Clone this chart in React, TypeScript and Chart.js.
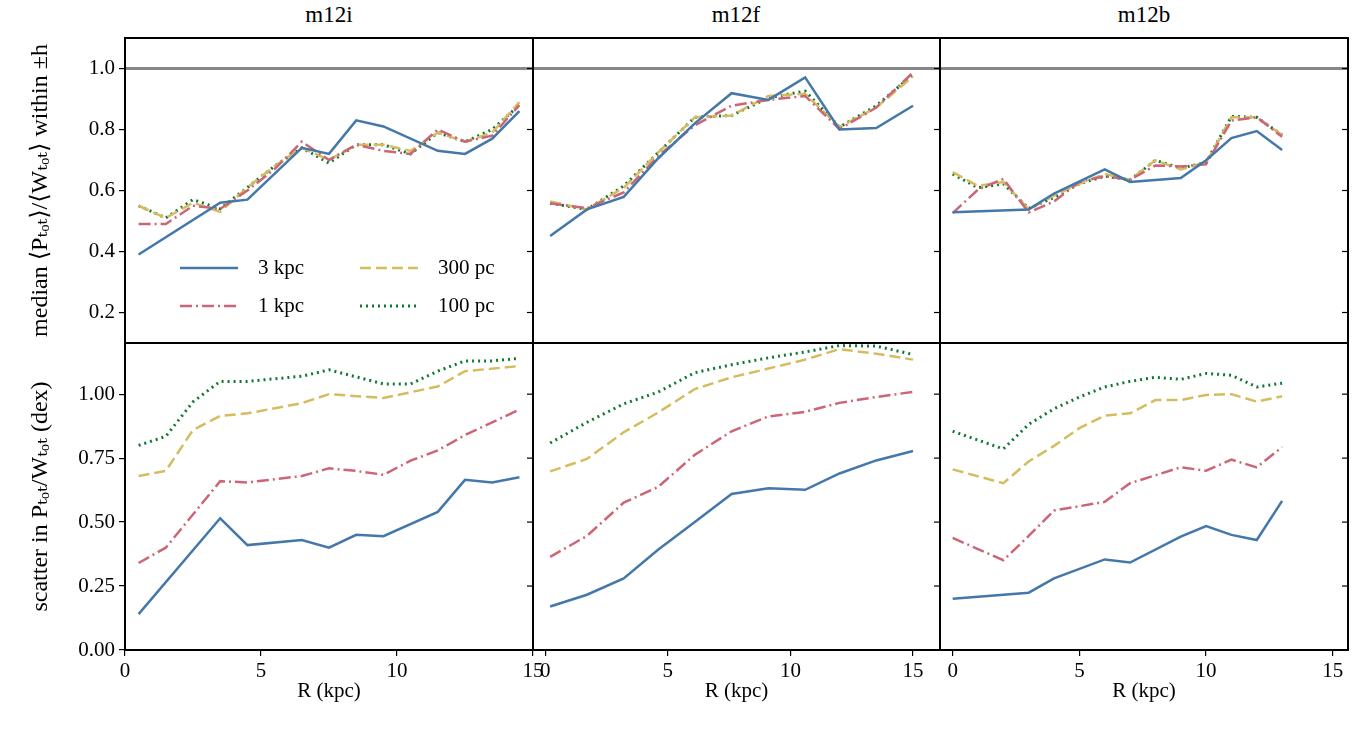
import { useEffect, useRef } from "react"
import Chart from "chart.js/auto"

const SERIF = "'Liberation Serif', 'DejaVu Serif', serif"

const seriesNames = ["3 kpc", "1 kpc", "300 pc", "100 pc"]
const seriesColors = ["#4477AA", "#CC6677", "#D4BC5F", "#117733"]
const seriesDash = [[], [12, 4, 2, 4], [11, 5], [2, 4]]

// m12i
const rM12i = [0.5, 1.5, 2.5, 3.5, 4.5, 5.5, 6.5, 7.5, 8.5, 9.5, 10.5, 11.5, 12.5, 13.5, 14.5]
const m12iMedian = [
  [0.39, null, null, 0.56, 0.57, null, 0.74, 0.72, 0.83, 0.81, null, 0.73, 0.72, 0.77, 0.86],
  [0.49, 0.49, 0.55, 0.54, 0.6, 0.67, 0.76, 0.7, 0.75, 0.73, 0.72, 0.8, 0.76, 0.78, 0.88],
  [0.55, 0.51, 0.56, 0.53, 0.61, 0.68, 0.74, 0.7, 0.75, 0.75, 0.73, 0.79, 0.76, 0.79, 0.89],
  [0.55, 0.51, 0.57, 0.54, 0.61, 0.68, 0.74, 0.69, 0.75, 0.75, 0.72, 0.79, 0.76, 0.8, 0.88],
]
const m12iScatter = [
  [0.14, null, null, 0.515, 0.41, null, 0.43, 0.4, 0.45, 0.445, null, 0.54, 0.665, 0.655, 0.675],
  [0.34, 0.4, null, 0.66, 0.655, null, 0.68, 0.71, 0.7, 0.685, 0.74, 0.78, 0.84, 0.89, 0.94],
  [0.68, 0.7, 0.86, 0.915, 0.925, null, 0.965, 1.0, null, 0.985, null, 1.03, 1.09, null, 1.11],
  [0.8, 0.835, 0.97, 1.05, 1.05, null, 1.07, 1.095, null, 1.04, 1.04, 1.09, 1.13, 1.13, 1.14],
]

// m12f
const rM12f = [0.2, 1.7, 3.2, 4.6, 6.1, 7.6, 9.1, 10.6, 12.0, 13.5, 15.0]
const m12fMedian = [
  [0.451, 0.538, 0.579, 0.705, 0.82, 0.919, 0.897, 0.971, 0.8, 0.805, 0.878],
  [0.558, 0.542, 0.594, 0.712, 0.814, 0.878, 0.897, 0.91, 0.801, 0.872, 0.987],
  [0.564, 0.538, 0.609, 0.724, 0.84, 0.846, 0.91, 0.917, 0.808, 0.872, 0.974],
  [0.558, 0.538, 0.615, 0.724, 0.84, 0.846, 0.904, 0.926, 0.808, 0.878, 0.98],
]
const m12fScatter = [
  [0.17, 0.216, 0.28, 0.392, 0.5, 0.61, 0.632, 0.626, 0.69, 0.741, 0.778],
  [0.364, 0.446, 0.576, 0.637, 0.763, 0.855, 0.913, 0.931, 0.966, 0.989, 1.009],
  [0.698, 0.747, 0.851, 0.928, 1.02, 1.066, 1.1, 1.135, 1.176, 1.158, 1.135],
  [0.809, 0.89, 0.962, 1.008, 1.084, 1.115, 1.142, 1.165, 1.19, 1.188, 1.155],
]

// m12b
const rM12b = [0, 1, 2, 3, 4, 5, 6, 7, 8, 9, 10, 11, 12, 13]
const m12bMedian = [
  [0.529, null, null, 0.538, 0.59, null, 0.669, 0.628, null, 0.641, 0.699, 0.772, 0.795, 0.733],
  [0.526, 0.603, 0.638, 0.528, 0.564, 0.628, 0.647, 0.635, 0.682, 0.679, 0.686, 0.829, 0.84, 0.776],
  [0.66, 0.615, 0.628, 0.538, 0.583, 0.622, 0.654, 0.635, 0.699, 0.669, 0.692, 0.84, 0.84, 0.782],
  [0.654, 0.609, 0.622, 0.541, 0.577, 0.622, 0.647, 0.635, 0.699, 0.673, 0.692, 0.843, 0.84, 0.782],
]
const m12bScatter = [
  [0.2, null, null, 0.224, 0.28, null, 0.354, 0.342, null, 0.443, 0.484, 0.45, 0.43, 0.583],
  [0.438, null, 0.351, 0.446, 0.545, null, 0.579, 0.652, 0.683, 0.714, 0.701, 0.744, 0.714, 0.793],
  [0.706, null, 0.652, 0.737, 0.798, 0.867, 0.916, 0.925, 0.977, 0.977, 0.997, 1.0, 0.971, 0.992],
  [0.855, null, 0.786, 0.882, 0.943, 0.989, 1.028, 1.05, 1.066, 1.058, 1.081, 1.074, 1.028, 1.043],
]

const medianTicks = [0.2, 0.4, 0.6, 0.8, 1.0]
const scatterTicks = [0, 0.25, 0.5, 0.75, 1.0]
const xTicks = [0, 5, 10, 15]

interface PanelProps {
  r: number[]
  values: (number | null)[][]
  box: [number, number, number, number] // plot area: left, top, right, bottom
  xRange: [number, number]
  row: "top" | "bottom"
  firstCol: boolean
  legend?: boolean
}

function Panel({ r, values, box, xRange, row, firstCol, legend }: PanelProps) {
  const ref = useRef<HTMLCanvasElement>(null)
  const [x0, y0, x1, y1] = box
  const L = firstCol ? 125 : 14
  const R = 22
  const T = 3
  const B = row === "bottom" ? 79 : 3
  const yMin = row === "top" ? 0.1 : 0
  const yMax = row === "top" ? 1.1 : 1.2
  const yTicks = row === "top" ? medianTicks : scatterTicks

  useEffect(() => {
    if (!ref.current) return
    const datasets: any[] = values.map((vals, i) => ({
      label: seriesNames[i],
      data: r.map((x, k) => ({ x, y: vals[k] })),
      borderColor: seriesColors[i],
      borderDash: seriesDash[i],
      borderWidth: i === 3 ? 3 : 2.5,
      pointRadius: 0,
      spanGaps: true,
      tension: 0,
    }))
    if (row === "top") {
      datasets.unshift({
        label: "unity",
        data: [
          { x: xRange[0], y: 1 },
          { x: xRange[1], y: 1 },
        ],
        borderColor: "#888888",
        borderWidth: 3,
        pointRadius: 0,
      })
    }

    const frame = {
      id: "frame",
      afterDatasetsDraw(chart: any) {
        const { ctx, chartArea: a, scales } = chart
        ctx.save()
        ctx.strokeStyle = "#000"
        ctx.lineWidth = 1.2
        // inward ticks on the right border
        for (const v of yTicks) {
          const py = scales.y.getPixelForValue(v)
          ctx.beginPath()
          ctx.moveTo(a.right, py)
          ctx.lineTo(a.right - 6, py)
          ctx.stroke()
        }
        ctx.lineWidth = 2
        ctx.strokeRect(a.left, a.top, a.right - a.left, a.bottom - a.top)
        if (legend) {
          ctx.font = `21px ${SERIF}`
          ctx.textBaseline = "middle"
          seriesNames.forEach((name, i) => {
            const col = i === 0 || i === 1 ? 0 : 1
            const rowI = i === 0 || i === 2 ? 0 : 1
            const lx = a.left + 55 + col * 180
            const ly = a.top + 230 + rowI * 38
            ctx.strokeStyle = seriesColors[i]
            ctx.lineWidth = i === 3 ? 3 : 2.5
            ctx.setLineDash(seriesDash[i])
            ctx.beginPath()
            ctx.moveTo(lx, ly)
            ctx.lineTo(lx + 58, ly)
            ctx.stroke()
            ctx.setLineDash([])
            ctx.fillStyle = "#000"
            ctx.fillText(name, lx + 78, ly)
          })
        }
        ctx.restore()
      },
    }

    const chart = new Chart(ref.current, {
      type: "line",
      data: { datasets },
      options: {
        animation: false,
        responsive: false,
        layout: {
          padding: {
            left: firstCol ? 22 : L,
            right: R,
            top: T,
            bottom: row === "bottom" ? 25 : B,
          },
        },
        plugins: { legend: { display: false }, tooltip: { enabled: false } },
        scales: {
          x: {
            type: "linear",
            min: xRange[0],
            max: xRange[1],
            display: row === "bottom",
            afterBuildTicks: (s: any) => {
              s.ticks = xTicks.map((v) => ({ value: v }))
            },
            afterFit: (s: any) => {
              s.height = row === "bottom" ? B - 25 : 0
              s.paddingLeft = 0
              s.paddingRight = 0
            },
            grid: { drawOnChartArea: false, color: "#000", tickLength: 6, lineWidth: 1.2 },
            border: { display: false },
            ticks: { color: "#000", font: { family: SERIF, size: 21 }, maxRotation: 0, padding: 3 },
            title: {
              display: true,
              text: "R (kpc)",
              color: "#000",
              font: { family: SERIF, size: 21 },
              padding: { top: 0, bottom: 0 },
            },
          },
          y: {
            type: "linear",
            min: yMin,
            max: yMax,
            display: firstCol,
            afterBuildTicks: (s: any) => {
              s.ticks = yTicks.map((v) => ({ value: v }))
            },
            afterFit: (s: any) => {
              s.width = firstCol ? L - 22 : 0
              s.paddingTop = 0
              s.paddingBottom = 0
            },
            grid: { drawOnChartArea: false, color: "#000", tickLength: 6, lineWidth: 1.2 },
            border: { display: false },
            ticks: {
              color: "#000",
              font: { family: SERIF, size: 21 },
              padding: 4,
              callback: (v: any) => Number(v).toFixed(row === "top" ? 1 : 2),
            },
            title: {
              display: true,
              text: row === "top" ? "median ⟨Pₜₒₜ⟩/⟨Wₜₒₜ⟩ within ±h" : "scatter in Pₜₒₜ/Wₜₒₜ (dex)",
              color: "#000",
              font: { family: SERIF, size: 24 },
              padding: { bottom: 4 },
            },
          },
        },
      },
      plugins: [frame],
    })
    return () => chart.destroy()
  }, [])

  const w = x1 - x0 + L + R
  const h = y1 - y0 + T + B
  return (
    <div style={{ position: "absolute", left: x0 - L, top: y0 - T, width: w, height: h }}>
      <canvas ref={ref} width={w} height={h} style={{ width: w, height: h }} />
    </div>
  )
}

const titles = [
  { text: "m12i", cx: 329 },
  { text: "m12f", cx: 736 },
  { text: "m12b", cx: 1144 },
]

export default function App() {
  return (
    <div style={{ position: "absolute", left: 0, top: 0, width: 1370, height: 729, background: "#fff" }}>
      {titles.map((t) => (
        <div
          key={t.text}
          style={{
            position: "absolute",
            left: t.cx - 60,
            width: 120,
            top: 2,
            textAlign: "center",
            fontFamily: SERIF,
            fontSize: 23,
          }}
        >
          {t.text}
        </div>
      ))}
      <Panel r={rM12i} values={m12iMedian} box={[125, 38, 533, 343]} xRange={[0, 15]} row="top" firstCol legend />
      <Panel r={rM12i} values={m12iScatter} box={[125, 343, 533, 650]} xRange={[0, 15]} row="bottom" firstCol />
      <Panel r={rM12f} values={m12fMedian} box={[533, 38, 940, 343]} xRange={[-0.5, 16.1]} row="top" firstCol={false} />
      <Panel r={rM12f} values={m12fScatter} box={[533, 343, 940, 650]} xRange={[-0.5, 16.1]} row="bottom" firstCol={false} />
      <Panel r={rM12b} values={m12bMedian} box={[940, 38, 1348, 343]} xRange={[-0.5, 15.6]} row="top" firstCol={false} />
      <Panel r={rM12b} values={m12bScatter} box={[940, 343, 1348, 650]} xRange={[-0.5, 15.6]} row="bottom" firstCol={false} />
    </div>
  )
}
